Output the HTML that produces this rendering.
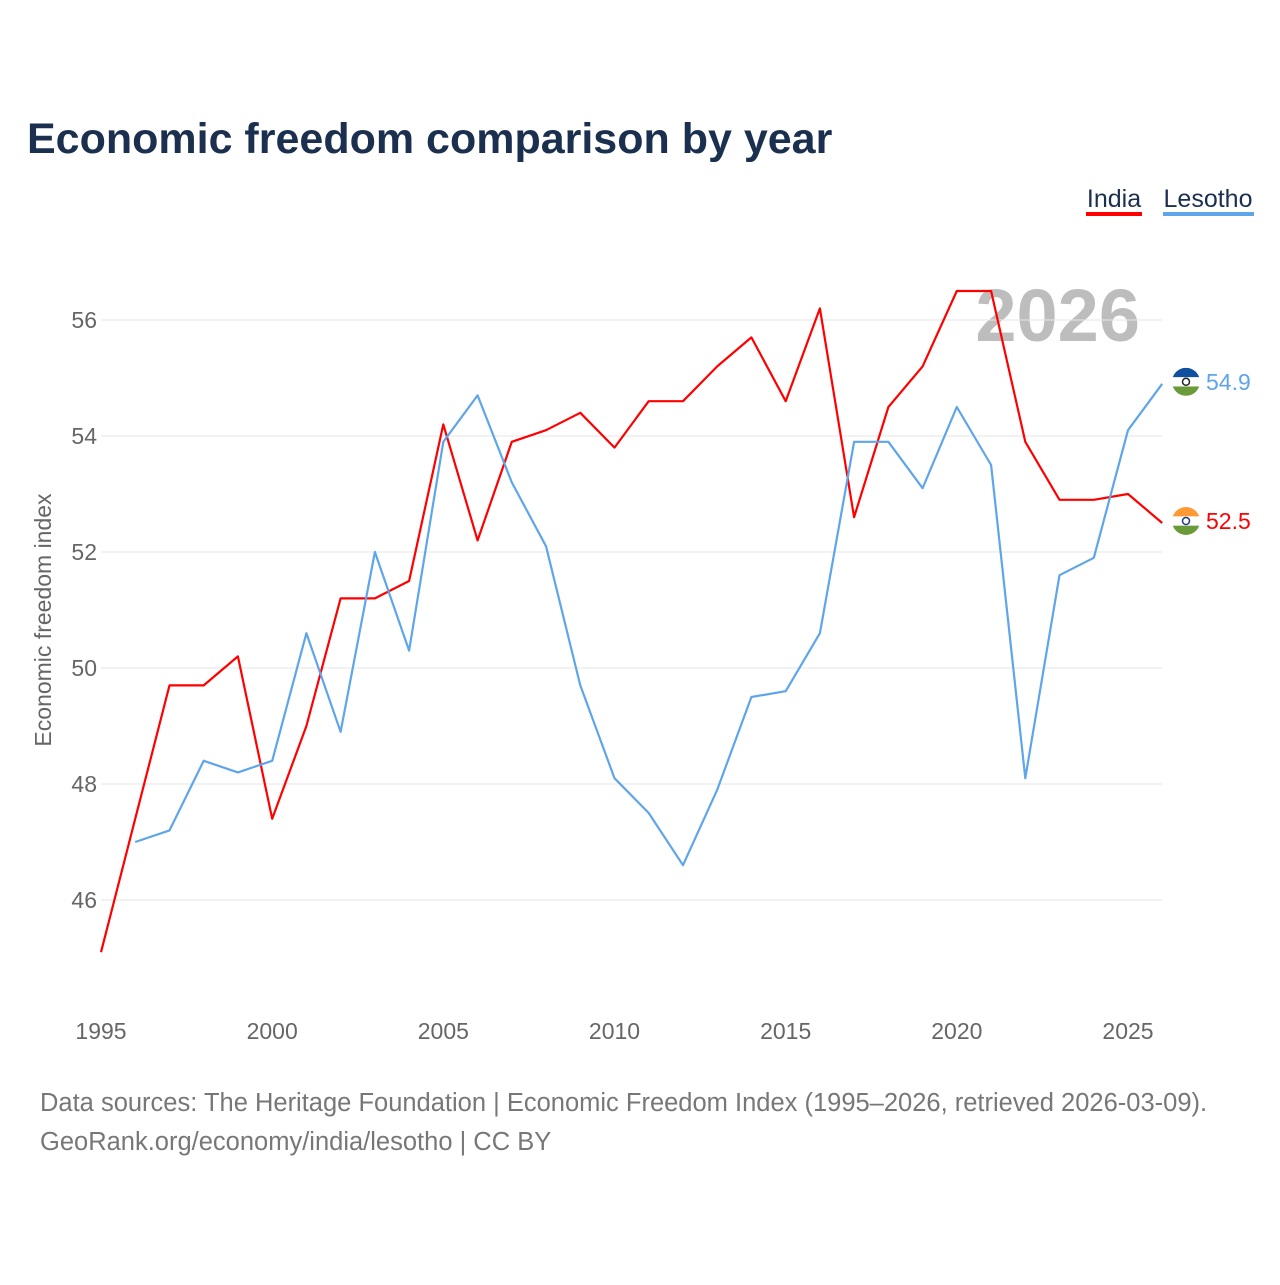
<!DOCTYPE html>
<html><head><meta charset="utf-8"><style>
body{margin:0;background:#fff;font-family:"Liberation Sans",sans-serif;}
</style></head><body>
<svg id="chart" width="1280" height="1280" viewBox="0 0 1280 1280" xmlns="http://www.w3.org/2000/svg">
<defs>
<clipPath id="cpIndia"><circle cx="1186" cy="0" r="14"/></clipPath>
</defs>
<text x="27" y="153" font-size="43" font-weight="bold" fill="#1b2f4f">Economic freedom comparison by year</text>
<g>
<text x="1114" y="207" font-size="25" fill="#1b2f4f" text-anchor="middle">India</text>
<rect x="1086" y="212" width="56" height="4" fill="#ff0000"/>
<text x="1208" y="207" font-size="25" fill="#1b2f4f" text-anchor="middle">Lesotho</text>
<rect x="1163" y="212" width="91" height="4" fill="#5ea5ea"/>
</g>
<text x="1140" y="341" font-size="74" font-weight="bold" fill="#bdbdbd" text-anchor="end">2026</text>
<g id="grid"></g><g id="axes"></g><g id="lines"></g>
<text transform="translate(51,620) rotate(-90)" font-size="23" fill="#666" text-anchor="middle">Economic freedom index</text>
<text x="40" y="1111" font-size="25.5" fill="#777">Data sources: The Heritage Foundation | Economic Freedom Index (1995–2026, retrieved 2026-03-09).</text>
<text x="40" y="1150" font-size="25.5" fill="#777">GeoRank.org/economy/india/lesotho | CC BY</text>
</svg>
<script>
const years=[1995,1996,1997,1998,1999,2000,2001,2002,2003,2004,2005,2006,2007,2008,2009,2010,2011,2012,2013,2014,2015,2016,2017,2018,2019,2020,2021,2022,2023,2024,2025,2026];
const india=[45.1,47.4,49.7,49.7,50.2,47.4,49.0,51.2,51.2,51.5,54.2,52.2,53.9,54.1,54.4,53.8,54.6,54.6,55.2,55.7,54.6,56.2,52.6,54.5,55.2,56.5,56.5,53.9,52.9,52.9,53.0,52.5];
const lesotho=[null,47.0,47.2,48.4,48.2,48.4,50.6,48.9,52.0,50.3,53.9,54.7,53.2,52.1,49.7,48.1,47.5,46.6,47.9,49.5,49.6,50.6,53.9,53.9,53.1,54.5,53.5,48.1,51.6,51.9,54.1,54.9];
const yTicks=[46,48,50,52,54,56];
const xTicks=[1995,2000,2005,2010,2015,2020,2025];
const NS="http://www.w3.org/2000/svg";
const xs=y=>101+(y-1995)*(1027/30);
const ys=v=>320+(56-v)*58;
function mk(t,a,p){const e=document.createElementNS(NS,t);for(const k in a)e.setAttribute(k,a[k]);p.appendChild(e);return e;}
const grid=document.getElementById('grid'),axes=document.getElementById('axes'),lines=document.getElementById('lines');
yTicks.forEach(v=>{
 const l=mk('line',{x1:101,x2:1162,y1:ys(v),y2:ys(v),stroke:'#e6e6e6','stroke-width':1},grid);
 
 
 const t=mk('text',{x:97,y:ys(v)+8,'font-size':23,fill:'#666','text-anchor':'end'},axes);
 t.textContent=v;
 
 
});
xTicks.forEach(y=>{
 const t=mk('text',{x:xs(y),y:1039,'font-size':23,fill:'#666','text-anchor':'middle'},axes);
 t.textContent=y;
 
 
});
function series(vals,color,name,stripes,center){
 const pts=[];vals.forEach((v,i)=>{if(v!=null)pts.push(xs(years[i]).toFixed(1)+','+ys(v).toFixed(1));});
 const p=mk('polyline',{points:pts.join(' '),fill:'none',stroke:color,'stroke-width':2.2,'stroke-linejoin':'round'},lines);
 
 
 const last=vals[vals.length-1];
 const cy=ys(last);
 const g=mk('g',{},lines);
 
 
 const cid='clip-'+name;
 const cp=mk('clipPath',{id:cid},g);
 mk('circle',{cx:1186,cy:cy-2,r:14},cp);
 const inner=mk('g',{'clip-path':'url(#'+cid+')'},g);
 stripes.forEach((c,i)=>mk('rect',{x:1170,y:cy-16+i*28/3,width:32,height:28/3+0.5,fill:c},inner));
 mk('circle',{cx:1186,cy:cy-2,r:3.5,fill:'none',stroke:center,'stroke-width':1.5},inner);
 const t=mk('text',{x:1206,y:cy+6,'font-size':23,fill:color},lines);
 t.textContent=last.toFixed(1);
 
 
}
series(india,'#ff0000','india',['#ff9933','#ffffff','#6a9a3a'],'#1a3a8a');
series(lesotho,'#5ea5ea','lesotho',['#1150a0','#ffffff','#6a9a3a'],'#222');
</script>
</body></html>
